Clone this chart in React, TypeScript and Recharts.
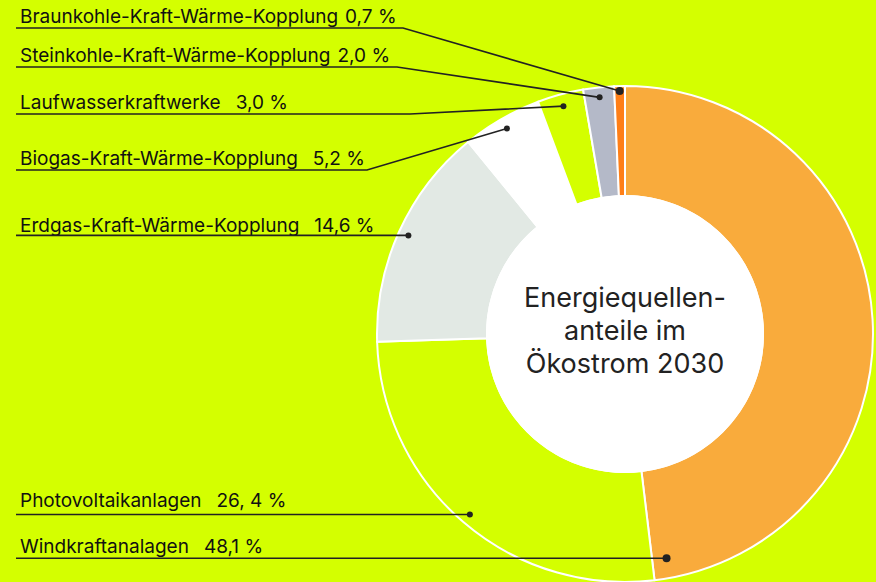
import { PieChart, Pie, Cell } from "recharts";

// Energiequellen im Ökostrom 2030 (Anteile in %)
const names = [
  "Windkraftanalagen",
  "Photovoltaikanlagen",
  "Erdgas-Kraft-Wärme-Kopplung",
  "Biogas-Kraft-Wärme-Kopplung",
  "Laufwasserkraftwerke",
  "Steinkohle-Kraft-Wärme-Kopplung",
  "Braunkohle-Kraft-Wärme-Kopplung",
];
const shares = [48.1, 26.4, 14.6, 5.2, 3.0, 2.0, 0.7];
const shareLabels = ["48,1 %", "26, 4 %", "14,6 %", "5,2 %", "3,0 %", "2,0 %", "0,7 %"];
const centerLines = ["Energiequellen-", "anteile im", "Ökostrom 2030"];

const data = names.map((name, i) => ({ name, value: shares[i], label: shareLabels[i] }));

const LIME = "#d4ff00";
const COLORS = ["#f9ab3c", LIME, "#e2e9e4", "#ffffff", LIME, "#b4b9c8", "#ff7f17"];
const FONT = "Inter, 'Noto Sans', sans-serif";
const RAD = Math.PI / 180;

// label placement: text baseline y, gap before value, where underline bends, dot details
const LABEL_LAYOUT = [
  { y: 553, gap: 15, flat: true, angle: 280.5, inset: 20, dotR: 4 },
  { y: 507, gap: 15, flat: true, inset: 10, dotR: 3 },
  { y: 232, gap: 15, flat: true, inset: 10, dotR: 3 },
  { y: 165, gap: 15, bendX: 367, inset: 11, dotR: 3 },
  { y: 109, gap: 15, bendX: 410, inset: 12, dotR: 3 },
  { y: 62, gap: 7, bendX: 397, inset: 10, dotR: 3 },
  { y: 23, gap: 7, bendX: 403, inset: 5, dotR: 4 },
];

const renderLabel = (props: any) => {
  const { cx, cy, midAngle, outerRadius, index, payload } = props;
  const lay = LABEL_LAYOUT[index];
  const ang = (lay.angle ?? midAngle) * RAD;
  const r = outerRadius - lay.inset;
  const px = cx + r * Math.cos(ang);
  const py = cy - r * Math.sin(ang);
  const lineY = lay.flat ? py : lay.y + 5;
  const points = lay.bendX
    ? `16,${lineY} ${lay.bendX},${lineY} ${px},${py}`
    : `16,${lineY} ${px},${py}`;
  return (
    <g key={`lbl-${index}`}>
      <text x={20} y={lay.y} fill="#111" fontFamily={FONT} fontSize={19}>
        {payload.name}
        <tspan dx={lay.gap}>{payload.label}</tspan>
      </text>
      <polyline points={points} fill="none" stroke="#222" strokeWidth={1.6} />
      <circle cx={px} cy={py} r={lay.dotR} fill="#222" />
    </g>
  );
};

const renderCenter = (props: any) => {
  const { cx, cy } = props;
  return (
    <text
      key="center"
      x={cx}
      textAnchor="middle"
      fill="#222"
      fontFamily={FONT}
      fontSize={27}
    >
      {centerLines.map((line, i) => (
        <tspan key={line} x={cx} y={cy - 27 + i * 33}>
          {line}
        </tspan>
      ))}
    </text>
  );
};

export default function App() {
  return (
    <div
      style={{
        position: "absolute",
        left: 0,
        top: 0,
        width: 876,
        height: 582,
        background: LIME,
      }}
    >
      <PieChart width={876} height={582} margin={{ top: 0, right: 0, bottom: 0, left: 0 }}>
        <Pie
          data={data}
          dataKey="value"
          nameKey="name"
          cx={625}
          cy={334}
          innerRadius={138}
          outerRadius={248}
          startAngle={90}
          endAngle={-270}
          stroke="#ffffff"
          strokeWidth={2}
          label={renderLabel}
          labelLine={false}
          isAnimationActive={false}
        >
          {data.map((d, i) => (
            <Cell key={d.name} fill={COLORS[i]} />
          ))}
        </Pie>
        <Pie
          data={[{ name: "center", value: 1 }]}
          dataKey="value"
          cx={625}
          cy={334}
          innerRadius={0}
          outerRadius={139}
          fill="#ffffff"
          stroke="none"
          label={renderCenter}
          labelLine={false}
          isAnimationActive={false}
        />
      </PieChart>
    </div>
  );
}
